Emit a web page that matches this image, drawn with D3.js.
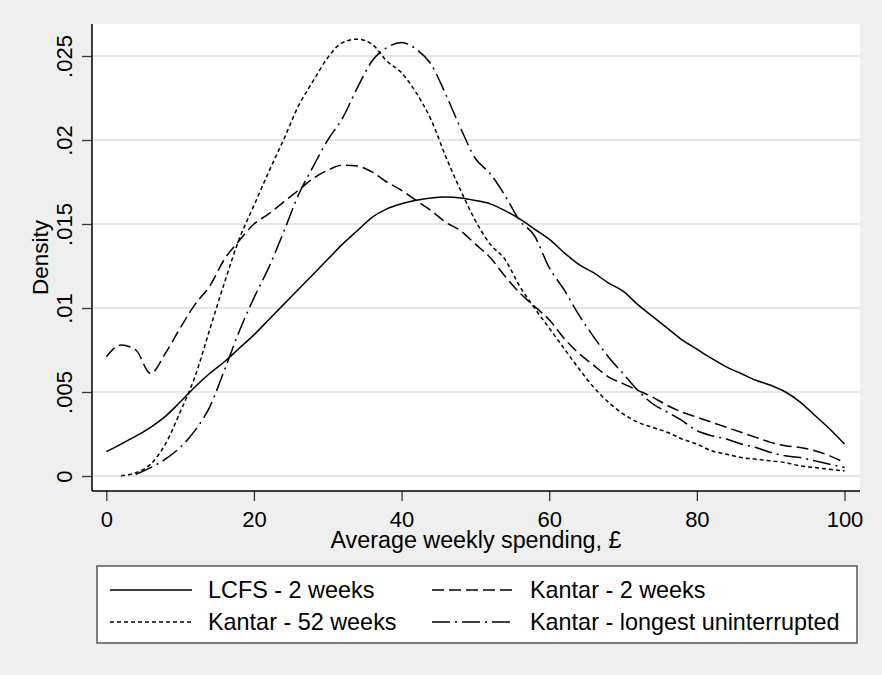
<!DOCTYPE html>
<html>
<head>
<meta charset="utf-8">
<script src="https://cdn.jsdelivr.net/npm/d3@7"></script>
<style>
  body { margin: 0; background: #efefef; }
  text { font-family: "Liberation Sans", Arial, sans-serif; fill: #000; }
</style>
</head>
<body>
<div id="chart"></div>
<script>
var svgWidth = 882;
var svgHeight = 675;

// plot frame (white region)
var frame = { left: 92, right: 860, top: 24, bottom: 491 };

// spending grid (x values, £)
var spending = [0, 2, 4, 6, 8, 10, 12, 14, 16, 18, 20, 22, 24, 26, 28, 30, 32, 34, 36, 38, 40,
  42, 44, 46, 48, 50, 52, 54, 56, 58, 60, 62, 64, 66, 68, 70, 72, 74, 76, 78, 80,
  82, 84, 86, 88, 90, 92, 94, 96, 98, 100];

var lcfs2w = [.00145, .0019, .00237, .0029, .00355, .0044, .0053, .0061, .0068, .0076, .0084,
  .0093, .0102, .0111, .0120, .0129, .0138, .0146, .0154, .0159, .0162,
  .01642, .01655, .0166, .01655, .0164, .0162, .0158, .0153, .0147, .0141,
  .0133, .0126, .0121, .0115, .0110, .0102, .0095, .0088, .0081, .00755,
  .0070, .0065, .0061, .0057, .0054, .0050, .0044, .0036, .0028, .0019];

var kantar2w = [.0071, .0078, .0075, .0061, .0073, .0088, .0102, .0113, .0129, .0140, .0150,
  .0156, .0163, .0170, .0177, .0182, .0185, .01845, .0181, .0175, .0170,
  .0164, .0158, .0151, .0146, .0138, .0130, .0119, .0109, .0101, .0093,
  .0082, .0073, .0066, .0059, .0055, .0051, .0047, .0042, .0038, .0035,
  .0032, .0029, .0026, .0023, .0020, .0018, .0017, .0015, .0012, .0008];

var kantar52w = [null, .00002, .0002, .0007, .0019, .0038, .0059, .0087, .0115, .0141, .0161,
  .0181, .0200, .0220, .0235, .0249, .0258, .0260, .0257, .0247, .0240,
  .0228, .0212, .0190, .0170, .0152, .0138, .0129, .0113, .0100, .0088,
  .0076, .0064, .0053, .0044, .0037, .0032, .0029, .0026, .0022, .0019,
  .0015, .0013, .0011, .0010, .0009, .0008, .0006, .0005, .0004, .0003];

var kantarLongest = [null, null, .0001, .0005, .0010, .0017, .0027, .0041, .0063, .0086, .0106,
  .0124, .0145, .0167, .0184, .0200, .0213, .0231, .0247, .0255, .0258,
  .0254, .0245, .0227, .0207, .0189, .0180, .0167, .0152, .0143, .0124,
  .0111, .0096, .0083, .0071, .0061, .0051, .0043, .0038, .0033, .0027,
  .0024, .0022, .0019, .0017, .0014, .0012, .0011, .0009, .0007, .0005];

var seriesNames = ["LCFS - 2 weeks", "Kantar - 2 weeks", "Kantar - 52 weeks", "Kantar - longest uninterrupted"];
var seriesDash = [null, "12,5", "4,3", "18,5,2,5"];

var xTicks = [0, 20, 40, 60, 80, 100];
var yTicks = [0, .005, .01, .015, .02, .025];
var yTickLabels = ["0", ".005", ".01", ".015", ".02", ".025"];

var svg = d3.select("#chart")
  .append("svg")
  .attr("width", svgWidth)
  .attr("height", svgHeight);

svg.append("rect")
  .attr("width", svgWidth)
  .attr("height", svgHeight)
  .attr("fill", "#efefef");

svg.append("rect")
  .attr("x", frame.left)
  .attr("y", frame.top)
  .attr("width", frame.right - frame.left)
  .attr("height", frame.bottom - frame.top)
  .attr("fill", "#fff");

var xScale = d3.scaleLinear().domain([0, 100]).range([106.3, 844.5]);
var yScale = d3.scaleLinear().domain([0, .025]).range([476, 56]);

// gridlines
svg.append("g")
  .selectAll("line")
  .data(yTicks)
  .enter()
  .append("line")
  .attr("x1", frame.left)
  .attr("x2", frame.right)
  .attr("y1", d => yScale(d))
  .attr("y2", d => yScale(d))
  .attr("stroke", "#e6e6e6")
  .attr("stroke-width", 2);

// axes
var bottomAxis = d3.axisBottom(xScale).tickValues(xTicks).tickSize(10).tickPadding(10);
var leftAxis = d3.axisLeft(yScale).tickValues(yTicks).tickSize(10)
  .tickFormat((d, i) => yTickLabels[i]);

var gx = svg.append("g")
  .attr("transform", `translate(0, ${frame.bottom})`)
  .call(bottomAxis);
gx.select(".domain").remove();
gx.selectAll("line").attr("stroke", "#333").attr("stroke-width", 1.3);
gx.selectAll("text").style("font-size", "22px").attr("fill", "#000");

var gy = svg.append("g")
  .attr("transform", `translate(${frame.left}, 0)`)
  .call(leftAxis);
gy.select(".domain").remove();
gy.selectAll("line").attr("stroke", "#333").attr("stroke-width", 1.3);
gy.selectAll("text")
  .style("font-size", "22px")
  .attr("fill", "#000")
  .attr("text-anchor", "middle")
  .attr("x", 0)
  .attr("y", -20)
  .attr("dy", 0)
  .attr("transform", "rotate(-90)");

svg.append("line")
  .attr("x1", frame.left).attr("x2", frame.left)
  .attr("y1", frame.top).attr("y2", frame.bottom)
  .attr("stroke", "#000").attr("stroke-width", 1.5);
svg.append("line")
  .attr("x1", frame.left).attr("x2", frame.right)
  .attr("y1", frame.bottom).attr("y2", frame.bottom)
  .attr("stroke", "#000").attr("stroke-width", 1.5);

// curves
var allSeries = [lcfs2w, kantar2w, kantar52w, kantarLongest];

var line = d3.line()
  .defined(d => d[1] != null)
  .x(d => xScale(d[0]))
  .y(d => yScale(d[1]))
  .curve(d3.curveMonotoneX);

svg.append("g")
  .selectAll("path")
  .data(allSeries)
  .enter()
  .append("path")
  .attr("d", vals => line(spending.map((s, i) => [s, vals[i]])))
  .attr("fill", "none")
  .attr("stroke", "#000")
  .attr("stroke-width", 1.5)
  .attr("stroke-dasharray", (d, i) => seriesDash[i]);

// axis titles
svg.append("text")
  .attr("x", (frame.left + frame.right) / 2)
  .attr("y", 548)
  .attr("text-anchor", "middle")
  .style("font-size", "23.3px")
  .text("Average weekly spending, £");

svg.append("text")
  .attr("transform", `translate(48, ${(frame.top + frame.bottom) / 2}) rotate(-90)`)
  .attr("text-anchor", "middle")
  .style("font-size", "22.5px")
  .text("Density");

// legend
var legend = svg.append("g");
legend.append("rect")
  .attr("x", 97)
  .attr("y", 566)
  .attr("width", 760)
  .attr("height", 77)
  .attr("fill", "#fff")
  .attr("stroke", "#555")
  .attr("stroke-width", 1.5);

var legendPos = [
  { x: 110, y: 590 },
  { x: 432, y: 590 },
  { x: 110, y: 622 },
  { x: 432, y: 622 }
];

var items = legend.selectAll("g.item")
  .data(seriesNames)
  .enter()
  .append("g")
  .attr("class", "item")
  .attr("transform", (d, i) => `translate(${legendPos[i].x}, ${legendPos[i].y})`);

items.append("line")
  .attr("x1", 0)
  .attr("x2", 82)
  .attr("stroke", "#000")
  .attr("stroke-width", 1.5)
  .attr("stroke-dasharray", (d, i) => seriesDash[i]);

items.append("text")
  .attr("x", 98)
  .attr("y", 8)
  .style("font-size", "23.4px")
  .text(d => d);
</script>
</body>
</html>
